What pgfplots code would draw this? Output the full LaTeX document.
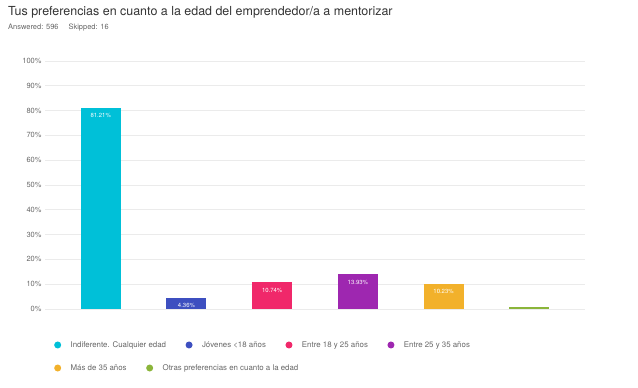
\documentclass[border=0pt]{standalone}
\usepackage{fontspec}
\setmainfont{TeX Gyre Heros}
\usepackage{pgfplots}
\pgfplotsset{compat=1.18}
\definecolor{c1}{HTML}{00C0D8}
\definecolor{c2}{HTML}{3D4FC0}
\definecolor{c3}{HTML}{F0286A}
\definecolor{c4}{HTML}{9E27B0}
\definecolor{c5}{HTML}{F2B12B}
\definecolor{c6}{HTML}{8BB53A}
\definecolor{txt}{HTML}{333333}
\definecolor{lgray}{HTML}{666666}
\pgfplotsset{
  lbl/.style={nodes near coords={\pgfmathprintnumber[fixed,precision=2,fixed zerofill]{\pgfplotspointmeta}\%},
    nodes near coords align={below},
    every node near coord/.append style={font=\fontsize{6}{7}\selectfont, text=white, yshift=-2bp}},
  dotlegend/.style={
    legend image code/.code={\fill[##1] (3.5bp,0bp) circle (3.5bp);},
  },
}
\begin{document}
\begin{tikzpicture}
\path[use as bounding box] (0,0) rectangle (638bp,388bp);
\node[anchor=west, inner sep=0pt, font=\fontsize{12.5}{14}\selectfont, text=txt] at (8bp,376bp) {Tus preferencias en cuanto a la edad del emprendedor/a a mentorizar};
\node[anchor=west, inner sep=0pt, font=\fontsize{7.5}{9}\selectfont, text=lgray] at (8bp,360bp) {Answered: 596\hspace{10bp}Skipped: 16};
\begin{axis}[
  at={(45bp,79bp)}, anchor=south west,
  scale only axis, width=540bp, height=248bp,
  xmin=-0.65, xmax=5.65, ymin=0, ymax=100,
  ytick={0,10,...,100}, xtick=\empty,
  axis line style={draw=none},
  tick style={draw=none},
  ymajorgrids, grid style={black!8, line width=0.8bp},
  /pgf/number format/assume math mode=true,
  yticklabel={\pgfmathprintnumber{\tick}\%},
  yticklabel style={font=\fontsize{7.5}{9}\selectfont, text=lgray},
  ybar, bar width=40bp, bar shift=0pt,
  dotlegend,
  legend columns=4,
  legend style={at={(0,0)}, anchor=west, xshift=6bp, yshift=-36bp, draw=none, fill=none,
    font=\fontsize{7.9}{9}\selectfont, text=lgray,
    /tikz/every even column/.append style={column sep=17.5bp},
    /tikz/every odd column/.append style={column sep=7.5bp}},
]
\addplot[fill=c1, draw=none, lbl] coordinates {(0,81.21)};
\addlegendentry{Indiferente. Cualquier edad}
\addplot[fill=c2, draw=none, lbl] coordinates {(1,4.36)};
\addlegendentry{Jóvenes <18 años}
\addplot[fill=c3, draw=none, lbl] coordinates {(2,10.74)};
\addlegendentry{Entre 18 y 25 años}
\addplot[fill=c4, draw=none, lbl] coordinates {(3,13.93)};
\addlegendentry{Entre 25 y 35 años}
\addplot[fill=c5, draw=none, lbl, forget plot] coordinates {(4,10.23)};
\addplot[fill=c6, draw=none, forget plot] coordinates {(5,0.84)};
\end{axis}
\begin{axis}[
  at={(45bp,79bp)}, anchor=south west,
  scale only axis, width=540bp, height=248bp,
  xmin=0, xmax=1, ymin=0, ymax=1, hide axis,
  dotlegend,
  legend columns=2,
  legend style={at={(0,0)}, anchor=west, xshift=6bp, yshift=-59bp, draw=none, fill=none,
    font=\fontsize{7.9}{9}\selectfont, text=lgray,
    /tikz/every even column/.append style={column sep=17.5bp},
    /tikz/every odd column/.append style={column sep=7.5bp}},
]
\addlegendimage{fill=c5, draw=none}
\addlegendentry{Más de 35 años}
\addlegendimage{fill=c6, draw=none}
\addlegendentry{Otras preferencias en cuanto a la edad}
\end{axis}
\end{tikzpicture}
\end{document}
